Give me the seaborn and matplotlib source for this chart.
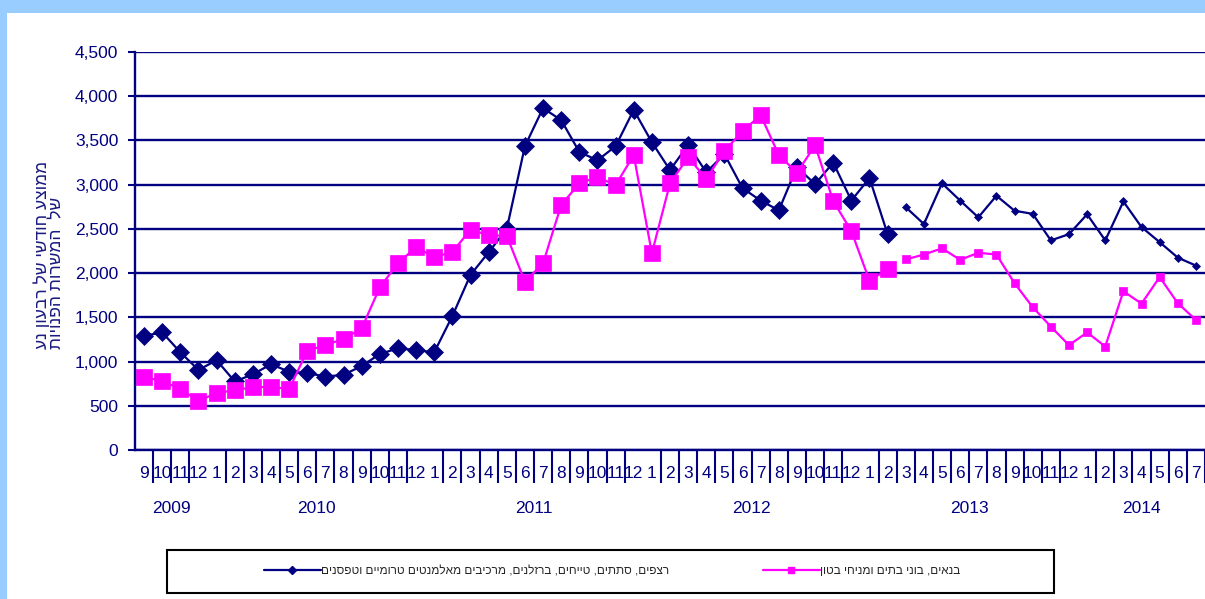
import numpy as np
import pandas as pd
import matplotlib
matplotlib.use("Agg")
import matplotlib.pyplot as plt
import matplotlib.transforms as mtransforms
import seaborn as sns
from matplotlib.lines import Line2D
from matplotlib.patches import Rectangle
from matplotlib.ticker import FuncFormatter, MultipleLocator

# ---------------- data ----------------
month_labels = (["9", "10", "11", "12"]
                + [str(m) for m in range(1, 13)] * 4
                + ["1", "2", "3", "4", "5", "6", "7"])
year_labels = ["2009", "2010", "2011", "2012", "2013", "2014"]
year_sizes = [4, 12, 12, 12, 12, 7]

navy_values = [1290, 1330, 1105, 905, 1015, 775, 855, 970, 885, 870, 830, 850,
               950, 1085, 1150, 1130, 1105, 1515, 1980, 2235, 2500, 3435, 3865, 3730,
               3370, 3275, 3435, 3845, 3480, 3165, 3450, 3140, 3345, 2960, 2820, 2710,
               3200, 3005, 3250, 2820, 3075, 2440, 2745, 2555, 3015, 2820, 2630, 2875,
               2705, 2670, 2370, 2440, 2665, 2370, 2810, 2520, 2350, 2175, 2085]

magenta_values = [825, 780, 690, 555, 645, 675, 712, 712, 690, 1120, 1187, 1255,
                  1375, 1840, 2110, 2295, 2180, 2240, 2490, 2430, 2420, 1905, 2110, 2770,
                  3015, 3085, 2995, 3335, 2225, 3015, 3310, 3065, 3380, 3605, 3785, 3335,
                  3135, 3445, 2815, 2475, 1915, 2045, 2155, 2210, 2280, 2150, 2230, 2210,
                  1885, 1615, 1395, 1185, 1330, 1170, 1795, 1655, 1955, 1660, 1470]

series_names = ["רצפים, סתתים, טייחים, ברזלנים, מרכיבים מאלמנטים טרומיים וטפסנים",
                "בנאים, בוני בתים ומניחי בטון"]
ylabel_lines = ["ממוצע חודשי של רבעון נע", "של  המשרות הפנויות"]
split_index = 42  # new segment starts at 3/2013


def rtl(s):
    # matplotlib has no bidi support: give Hebrew in visual order
    return s[::-1]


# ---------------- style ----------------
sns.set_style("white")
plt.rcParams["font.family"] = ["Liberation Sans", "DejaVu Sans"]

NAVY = "#000080"
MAG = "#FF00FF"
BG = "#99CCFF"

W, H = 1205, 599
fig = plt.figure(figsize=(W / 100, H / 100), dpi=100, facecolor=BG)
fig.patches.append(Rectangle((7 / W, 0), 1 - 7 / W, 1 - 13 / H, transform=fig.transFigure,
                             facecolor="white", edgecolor="none", zorder=-5))

ax = fig.add_axes([135 / W, 1 - 450 / H, 1070 / W, 398 / H])
ax.set_facecolor("none")

n = len(month_labels)
df = pd.DataFrame({"idx": np.arange(n), "navy": navy_values, "magenta": magenta_values})
first = df.iloc[:split_index]
second = df.iloc[split_index:]

for col, color, marker, ms_big, ms_small in [("navy", NAVY, "D", 9.5, 4.0),
                                             ("magenta", MAG, "s", 11.5, 5.5)]:
    sns.lineplot(data=first, x="idx", y=col, color=color, marker=marker,
                 markersize=ms_big, markeredgecolor=color, markeredgewidth=0.5,
                 linewidth=1.6, ax=ax, clip_on=False)
    sns.lineplot(data=second, x="idx", y=col, color=color, marker=marker,
                 markersize=ms_small, markeredgecolor=color, markeredgewidth=0.5,
                 linewidth=1.6, ax=ax, clip_on=False)

ax.set_xlim(-0.5, n - 0.5)
ax.set_ylim(0, 4500)
ax.set_xlabel("")
ax.set_ylabel("")

# y axis
ax.yaxis.set_major_locator(MultipleLocator(500))
ax.yaxis.set_major_formatter(FuncFormatter(lambda v, p: f"{int(v):,}"))
ax.grid(axis="y", color=NAVY, linewidth=1.7)
ax.grid(axis="x", visible=False)
ax.set_axisbelow(True)
ax.tick_params(axis="y", colors=NAVY, labelsize=12.5, length=5, width=1.5,
               direction="out", pad=7, left=True)
for s in ["top", "right"]:
    ax.spines[s].set_visible(False)
for s in ["left", "bottom"]:
    ax.spines[s].set_color(NAVY)
    ax.spines[s].set_linewidth(1.7)

# x axis: month boundaries and year separators
cum = np.cumsum([0] + year_sizes)
year_bounds = [c - 0.5 for c in cum[:-1]]
all_bounds = np.arange(-0.5, n, 1.0)
minor_bounds = [b for b in all_bounds if b not in year_bounds]
ax.set_xticks(year_bounds)
ax.set_xticklabels([""] * len(year_bounds))
ax.set_xticks(minor_bounds, minor=True)
ax.tick_params(axis="x", which="major", length=50, width=1.5, color=NAVY, direction="out")
ax.tick_params(axis="x", which="minor", length=24, width=1.5, color=NAVY, direction="out",
               bottom=True)

trans = mtransforms.blended_transform_factory(ax.transData, ax.transAxes)
for i, lab in enumerate(month_labels):
    ax.text(i, -0.058, lab, transform=trans, ha="center", va="center",
            fontsize=12.5, color=NAVY)
for k, lab in enumerate(year_labels):
    center = (cum[k] + cum[k + 1] - 1) / 2
    ax.text(center, -0.147, lab, transform=trans, ha="center", va="center",
            fontsize=12.5, color=NAVY)

# y label (Hebrew, two lines)
fig.text(49 / W, 1 - 255 / H, "\n".join(rtl(l) for l in ylabel_lines), rotation=90,
         ha="center", va="center", multialignment="left", fontsize=12.5,
         color="#1A1A80", linespacing=1.0)

# legend box and entries
fig.patches.append(Rectangle((167 / W, 1 - 593 / H), (1054 - 167) / W, 43 / H,
                             transform=fig.transFigure, facecolor="white",
                             edgecolor="black", linewidth=1.5, zorder=1))
handles = [Line2D([], [], color=NAVY, marker="D", markersize=4, linewidth=1.6),
           Line2D([], [], color=MAG, marker="s", markersize=5, linewidth=1.6)]
fig.legend(handles, [rtl(s) for s in series_names], loc="center",
           bbox_to_anchor=(612 / W, 1 - 571 / H), ncol=2, frameon=False,
           fontsize=8.5, handlelength=4.8, handletextpad=0.0, columnspacing=8.0)

fig.savefig("out.png", dpi=100, facecolor=BG)
